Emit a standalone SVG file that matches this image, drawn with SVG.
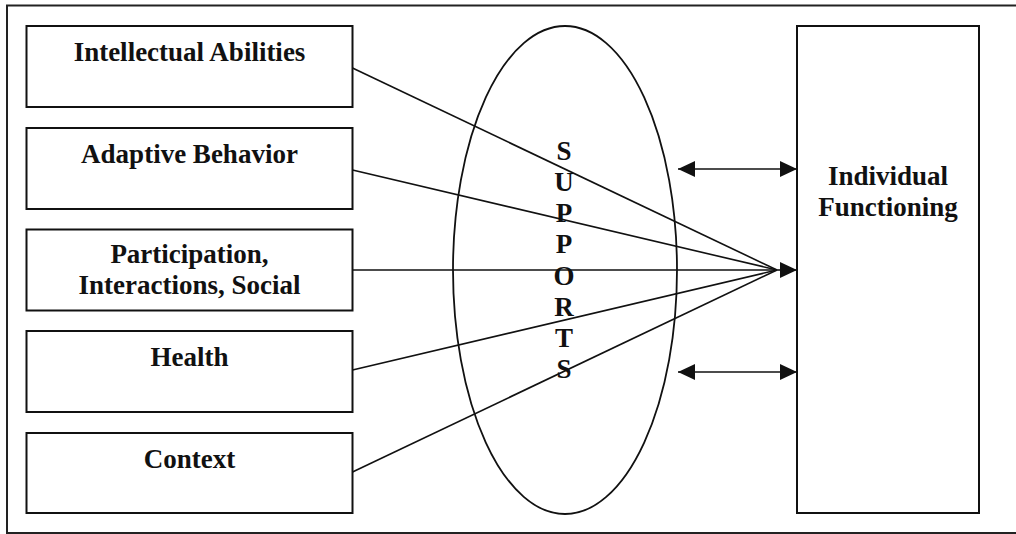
<svg xmlns="http://www.w3.org/2000/svg" width="1016" height="534" viewBox="0 0 1016 534">
  <style>
    .box { fill: #ffffff; stroke: #111111; stroke-width: 2; }
    .lbl { font-family: "Liberation Serif", "Times New Roman", serif; font-weight: bold; font-size: 27px; fill: #111111; text-anchor: middle; }
    .conn { stroke: #111111; stroke-width: 1.6; fill: none; }
  </style>
  <defs>
    <marker id="arrow" markerUnits="userSpaceOnUse" markerWidth="17" markerHeight="16" viewBox="0 0 17 16" refX="17" refY="8" orient="auto-start-reverse">
      <path d="M0,0 L17,8 L0,16 z" fill="#111111"/>
    </marker>
  </defs>
  <rect x="0" y="0" width="1016" height="534" fill="#ffffff"/>
  <rect id="frame" x="7" y="5.5" width="1020" height="527.5" fill="none" stroke="#222222" stroke-width="2"/>

  <g id="supports">
    <ellipse cx="565" cy="270" rx="112" ry="244" fill="none" stroke="#111111" stroke-width="1.8"/>
    <text class="lbl" x="564" y="160">S</text>
    <text class="lbl" x="564" y="191">U</text>
    <text class="lbl" x="564" y="222">P</text>
    <text class="lbl" x="564" y="253">P</text>
    <text class="lbl" x="564" y="285">O</text>
    <text class="lbl" x="564" y="316">R</text>
    <text class="lbl" x="564" y="347">T</text>
    <text class="lbl" x="564" y="378">S</text>
  </g>

  <g id="intellectual">
    <rect class="box" x="26.5" y="26" width="326" height="81"/>
    <text class="lbl" x="189.5" y="61">Intellectual Abilities</text>
  </g>
  <g id="adaptive">
    <rect class="box" x="26.5" y="128" width="326" height="81"/>
    <text class="lbl" x="189.5" y="163">Adaptive Behavior</text>
  </g>
  <g id="participation">
    <rect class="box" x="26.5" y="229.5" width="326" height="81"/>
    <text class="lbl" x="189.5" y="263">Participation,</text>
    <text class="lbl" x="189.5" y="294">Interactions, Social</text>
  </g>
  <g id="health">
    <rect class="box" x="26.5" y="331" width="326" height="81"/>
    <text class="lbl" x="189.5" y="366">Health</text>
  </g>
  <g id="context">
    <rect class="box" x="26.5" y="433" width="326" height="80"/>
    <text class="lbl" x="189.5" y="468">Context</text>
  </g>
  <g id="individual">
    <rect class="box" x="797" y="26" width="182" height="487"/>
    <text class="lbl" x="888" y="185">Individual</text>
    <text class="lbl" x="888" y="216">Functioning</text>
  </g>

  <g id="connectors">
    <line class="conn" x1="352.5" y1="68" x2="777" y2="270"/>
    <line class="conn" x1="352.5" y1="170" x2="777" y2="270"/>
    <line class="conn" x1="352.5" y1="270" x2="777" y2="270"/>
    <line class="conn" x1="352.5" y1="370" x2="777" y2="270"/>
    <line class="conn" x1="352.5" y1="472" x2="777" y2="270"/>
    <line class="conn" x1="776" y1="270" x2="797" y2="270" marker-end="url(#arrow)"/>
    <line class="conn" x1="678" y1="169" x2="797" y2="169" marker-start="url(#arrow)" marker-end="url(#arrow)"/>
    <line class="conn" x1="678" y1="372" x2="797" y2="372" marker-start="url(#arrow)" marker-end="url(#arrow)"/>
  </g>
</svg>
